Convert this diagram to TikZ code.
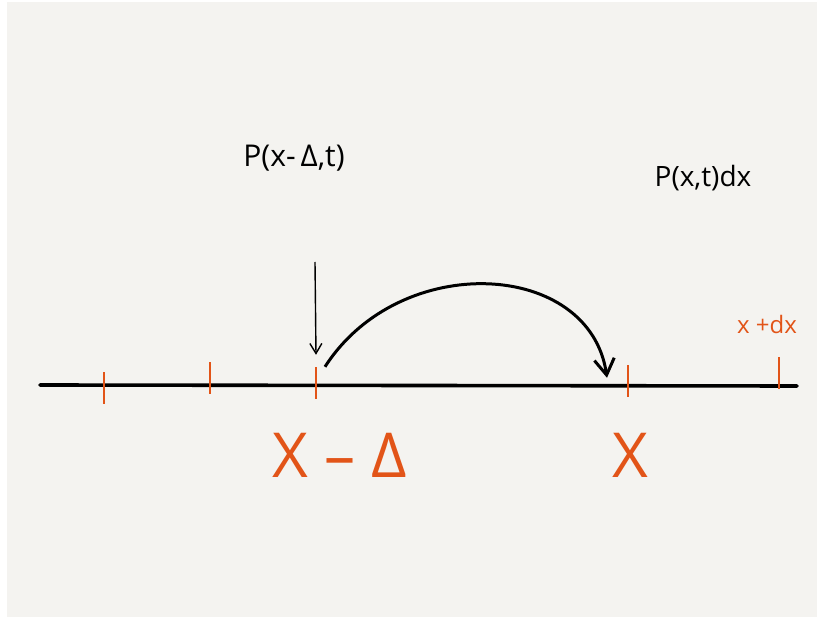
\documentclass[tikz,border=0pt]{standalone}
\usepackage{fontspec}
\setmainfont{Open Sans}
\usetikzlibrary{arrows.meta,positioning}
\definecolor{paper}{RGB}{244,243,240}
\definecolor{pen}{RGB}{226,84,24}

\begin{document}
\begin{tikzpicture}[
  x=1pt, y=-1pt, >={Straight Barb[length=10pt,width=12pt]},
  tickmark/.style={fill=pen, inner sep=0pt, minimum width=1.6pt, minimum height=32pt},
  axis/.style={line width=3.6pt, line cap=round},
  note/.style={font=\fontsize{30}{32}\selectfont, inner sep=0pt},
  big/.style={font=\fontsize{62}{64}\selectfont, text=pen, inner sep=0pt},
  arr/.style={->, line width=1.4pt},
  hop/.style={-{Straight Barb[length=16pt,width=20pt]}, line width=3pt}]
  \useasboundingbox (0,0) rectangle (817,617);
  \fill[white] (0,0) rectangle (817,617);
  \fill[paper] (7,2) rectangle (817,617);
  % number line
  \coordinate (left)  at (40,385);
  \coordinate (right) at (797,386);
  \draw[axis] (left) -- (right);
  \foreach \n/\x/\y in {t1/104/388, t2/210/378, t3/316/383, t4/628/381, t5/779/373}
    {\node[tickmark] (\n) at (\x,\y) {};}
  % labels
  \node[note] (pold) at (294,158) {P(x-\,Δ,t)};
  \node[note, font=\fontsize{28}{30}\selectfont] (pnew) at (703,178) {P(x,t)dx};
  \node[big] (xmd) at (340,455) {X – Δ};
  \node[big] (xx) at (630,455) {X};
  \node[note, text=pen, font=\fontsize{24}{26}\selectfont] (xdx) at (767,325) {x +dx};
  % arrows
  \coordinate (drop) at (315,262);
  \draw[arr] (drop) -- ([yshift=12pt]t3.north);
  \draw[hop] ([xshift=9pt]t3.north) .. controls (400,250) and (590,260) .. ([xshift=-21pt,yshift=-13pt]t4.north);
\end{tikzpicture}
\end{document}
